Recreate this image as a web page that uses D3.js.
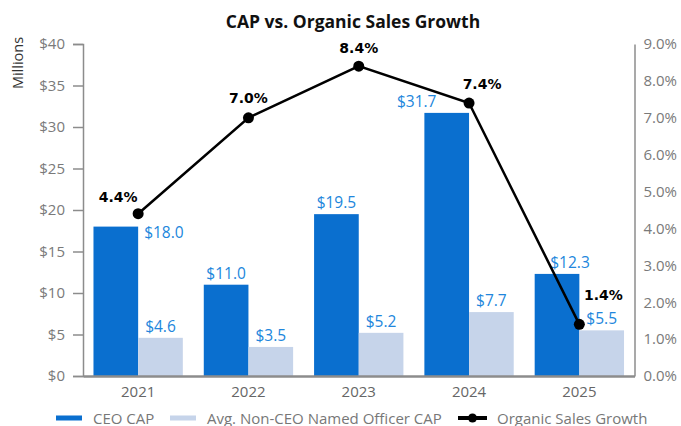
<!DOCTYPE html>
<html>
<head>
<meta charset="utf-8">
<script src="https://cdn.jsdelivr.net/npm/d3@7/dist/d3.min.js"></script>
<style>
  html, body { margin: 0; padding: 0; background: #fff; }
  svg { display: block; }
</style>
</head>
<body>
<svg id="chart" width="681" height="426"></svg>
<script>
// ---- data ----
const years = ["2021", "2022", "2023", "2024", "2025"];
const ceoCap = [18.0, 11.0, 19.5, 31.7, 12.3];
const neoCap = [4.6, 3.5, 5.2, 7.7, 5.5];
const organicGrowth = [4.4, 7.0, 8.4, 7.4, 1.4];
const leftTicks = [0, 5, 10, 15, 20, 25, 30, 35, 40];
const rightTicks = [0, 1, 2, 3, 4, 5, 6, 7, 8, 9];

// ---- label layout (kept apart from the values) ----
// CEO value labels: "top" = centred above the bar, "side" = beside the bar
const ceoLabelMode = ["side", "top", "top", "top", "top"];
const ceoLabelShift = [0, 0, 0, -30, 13];
// growth labels: offset from the marker
const growthLabelShift = [[-20, -12], [0, -15], [0, -13], [13, -14], [24, -24]];

const FONT = "'Open Sans', 'Noto Sans', sans-serif";
const BOLD = "'DejaVu Sans', Verdana, sans-serif";
const C_CEO = "#0a6fcf";
const C_NEO = "#c6d4ea";
const C_LABEL = "#2186dc";
const C_AXIS = "#8c8c8c";
const C_TICK = "#7a7a7a";

const svg = d3.select("#chart");
const x0 = 83, x1 = 634.5, yTop = 44, yBot = 376;

const x = d3.scaleBand().domain(years).range([x0, x1]).paddingInner(0.19).paddingOuter(0.095);
const xs = d3.scaleBand().domain(["ceo", "neo"]).range([0, x.bandwidth()]);
const y = d3.scaleLinear().domain([0, 40]).range([yBot, yTop]);
const y2 = d3.scaleLinear().domain([0, 9]).range([yBot, yTop]);

// title
svg.append("text")
  .attr("x", 353).attr("y", 28)
  .attr("text-anchor", "middle")
  .style("font-family", FONT).style("font-weight", 700).style("font-size", "17.5px")
  .attr("fill", "#111")
  .text("CAP vs. Organic Sales Growth");

// y-axis title
svg.append("text")
  .attr("transform", "translate(23,63) rotate(-90)")
  .attr("text-anchor", "middle")
  .style("font-family", FONT).style("font-size", "14.5px")
  .attr("fill", "#333")
  .text("Millions");

// bars
const groups = svg.append("g").selectAll("g").data(years).join("g")
  .attr("transform", d => `translate(${x(d)},0)`);

groups.append("rect")
  .attr("x", xs("ceo")).attr("width", xs.bandwidth())
  .attr("y", (d, i) => y(ceoCap[i]))
  .attr("height", (d, i) => y(0) - y(ceoCap[i]))
  .attr("fill", C_CEO);

groups.append("rect")
  .attr("x", xs("neo")).attr("width", xs.bandwidth())
  .attr("y", (d, i) => y(neoCap[i]))
  .attr("height", (d, i) => y(0) - y(neoCap[i]))
  .attr("fill", C_NEO);

// left axis
const leftAxis = d3.axisLeft(y).tickValues(leftTicks).tickFormat(d => "$" + d).tickSize(10).tickPadding(8);
const gL = svg.append("g").attr("transform", `translate(${x0},0)`).call(leftAxis);
gL.select(".domain").attr("stroke", C_AXIS).attr("stroke-width", 1.5);
gL.selectAll(".tick line").attr("stroke", C_AXIS).attr("stroke-width", 1.5);
gL.selectAll(".tick text").attr("fill", C_TICK).style("font-family", FONT).style("font-size", "15px");

// right axis
const rightAxis = d3.axisRight(y2).tickValues(rightTicks).tickFormat(d => d.toFixed(1) + "%").tickSize(0).tickPadding(9);
const gR = svg.append("g").attr("transform", `translate(${x1},0)`).call(rightAxis);
gR.select(".domain").attr("stroke", C_AXIS).attr("stroke-width", 1.5);
gR.selectAll(".tick text").attr("fill", C_TICK).style("font-family", FONT).style("font-size", "15px");

// bottom axis
const bottomAxis = d3.axisBottom(x).tickSize(0).tickPadding(10);
const gB = svg.append("g").attr("transform", `translate(0,${yBot})`).call(bottomAxis);
gB.select(".domain").attr("stroke", C_AXIS).attr("stroke-width", 2.5);
gB.selectAll(".tick text").attr("fill", "#666").style("font-family", FONT).style("font-size", "15px");

// value labels on the bars
const fmt = d3.format(".1f");
groups.append("text")
  .attr("x", (d, i) => ceoLabelMode[i] === "side"
    ? xs("ceo") + xs.bandwidth() + 6
    : xs("ceo") + xs.bandwidth() / 2 + ceoLabelShift[i])
  .attr("y", (d, i) => ceoLabelMode[i] === "side" ? y(ceoCap[i]) + 11 : y(ceoCap[i]) - 6)
  .attr("text-anchor", (d, i) => ceoLabelMode[i] === "side" ? "start" : "middle")
  .attr("fill", C_LABEL)
  .style("font-family", FONT).style("font-size", "15.5px")
  .text((d, i) => "$" + fmt(ceoCap[i]));

groups.append("text")
  .attr("x", xs("neo") + xs.bandwidth() / 2)
  .attr("y", (d, i) => y(neoCap[i]) - 6)
  .attr("text-anchor", "middle")
  .attr("fill", C_LABEL)
  .style("font-family", FONT).style("font-size", "15.5px")
  .text((d, i) => "$" + fmt(neoCap[i]));

// organic sales growth line
const cx = d => x(d) + x.bandwidth() / 2;
const line = d3.line().x(d => cx(d.year)).y(d => y2(d.v));
const pts = years.map((yr, i) => ({ year: yr, v: organicGrowth[i] }));
svg.append("path").datum(pts)
  .attr("d", line).attr("fill", "none")
  .attr("stroke", "#000").attr("stroke-width", 2.5);
svg.append("g").selectAll("circle").data(pts).join("circle")
  .attr("cx", d => cx(d.year)).attr("cy", d => y2(d.v)).attr("r", 5.5)
  .attr("fill", "#000");
svg.append("g").selectAll("text").data(pts).join("text")
  .attr("x", (d, i) => cx(d.year) + growthLabelShift[i][0])
  .attr("y", (d, i) => y2(d.v) + growthLabelShift[i][1])
  .attr("text-anchor", "middle")
  .style("font-family", BOLD).style("font-weight", 700).style("font-size", "14px")
  .attr("fill", "#000")
  .text(d => d.v.toFixed(1) + "%");

// legend
const lg = svg.append("g").attr("transform", "translate(0,418)");
lg.append("rect").attr("x", 56).attr("y", -2.5).attr("width", 26).attr("height", 5).attr("fill", C_CEO);
lg.append("text").attr("x", 93).attr("y", 5.5).text("CEO CAP");
lg.append("rect").attr("x", 170).attr("y", -2.5).attr("width", 26).attr("height", 5).attr("fill", C_NEO);
lg.append("text").attr("x", 207).attr("y", 5.5).text("Avg. Non-CEO Named Officer CAP");
lg.append("line").attr("x1", 458).attr("x2", 487).attr("y1", 0).attr("y2", 0).attr("stroke", "#000").attr("stroke-width", 4);
lg.append("circle").attr("cx", 472.5).attr("cy", 0).attr("r", 4.5).attr("fill", "#000");
lg.append("text").attr("x", 497).attr("y", 5.5).text("Organic Sales Growth");
lg.selectAll("text").attr("fill", "#777").style("font-family", FONT).style("font-size", "15px");
</script>
</body>
</html>
